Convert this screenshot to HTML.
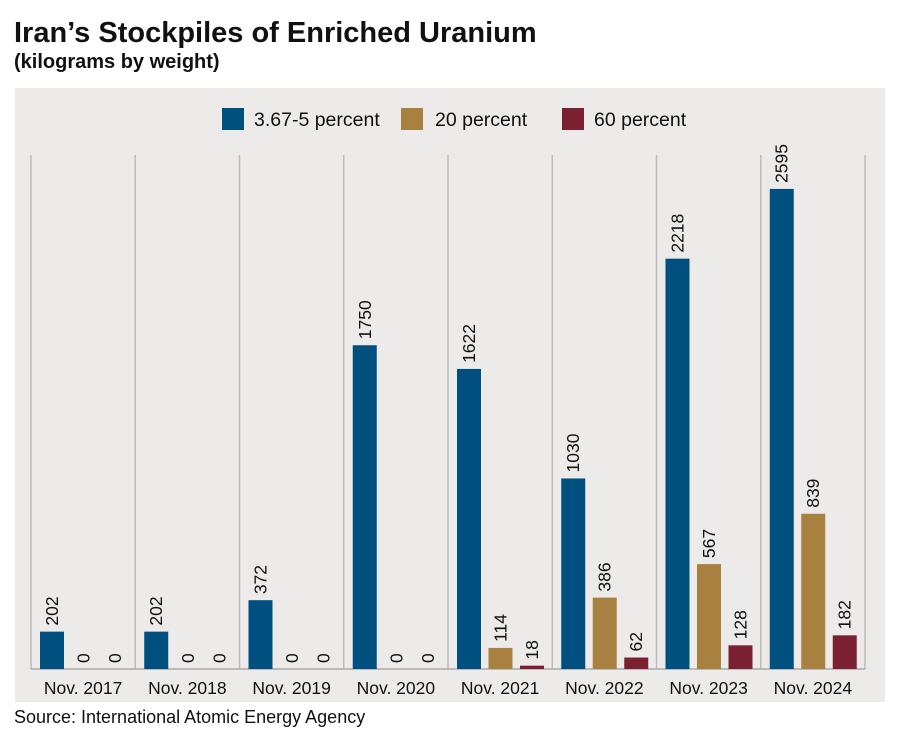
<!DOCTYPE html>
<html><head><meta charset="utf-8"><style>
body{margin:0;background:#fff;width:900px;height:736px;overflow:hidden;font-family:"Liberation Sans",sans-serif}
</style></head><body>
<svg id="chart" width="900" height="736" xmlns="http://www.w3.org/2000/svg">
<text x="14" y="42" font-family="Liberation Sans Narrow, Liberation Sans, sans-serif" font-weight="bold" font-size="29" fill="#111">Iran’s Stockpiles of Enriched Uranium</text>
<text x="14" y="68" font-family="Liberation Sans Narrow, Liberation Sans, sans-serif" font-weight="bold" font-size="20" fill="#111">(kilograms by weight)</text>
<rect x="15" y="88" width="870" height="614" fill="#ecebea"/>
<g>
<rect x="222" y="108" width="22" height="22" fill="#00507f"/>
<text x="254" y="126" font-size="19.5" fill="#111">3.67-5 percent</text>
<rect x="401" y="108" width="22" height="22" fill="#a88140"/>
<text x="435" y="126" font-size="19.5" fill="#111">20 percent</text>
<rect x="562" y="108" width="22" height="22" fill="#7a2030"/>
<text x="594" y="126" font-size="19.5" fill="#111">60 percent</text>
</g>
<g id="plot"></g>
<text x="14" y="723" font-size="18" fill="#111">Source: International Atomic Energy Agency</text>
</svg>
<script>
const categories=["Nov. 2017","Nov. 2018","Nov. 2019","Nov. 2020","Nov. 2021","Nov. 2022","Nov. 2023","Nov. 2024"];
const lowEnriched=[202,202,372,1750,1622,1030,2218,2595];
const enriched20=[0,0,0,0,114,386,567,839];
const enriched60=[0,0,0,0,18,62,128,182];
const seriesNames=["low","20","60"];
const colors=["#00507f","#a88140","#7a2030"];
const NS="http://www.w3.org/2000/svg";
const g=document.getElementById('plot');
const x0=31,gw=104.25,base=669,scale=0.185;
const xBand=i=>x0+i*gw;
const yScale=v=>base-v*scale;
function mk(t,a){const e=document.createElementNS(NS,t);for(const k in a)e.setAttribute(k,a[k]);g.appendChild(e);return e;}
for(let i=0;i<=categories.length;i++){
  const l=mk('line',{x1:xBand(i),x2:xBand(i),y1:155,y2:base,stroke:'#bdbcbb','stroke-width':1.5});
  
  
}
const ax=mk('line',{x1:x0,x2:xBand(categories.length),y1:base,y2:base,stroke:'#aaa','stroke-width':1.5});


const series=[lowEnriched,enriched20,enriched60];
categories.forEach((c,i)=>{
  series.forEach((s,j)=>{
    const v=s[i];const bx=xBand(i)+9+j*31.5;const y=yScale(v);
    const r=mk('rect',{x:bx,y:y,width:24,height:base-y,fill:colors[j]});
    
    
    const tx=bx+12+6,ty=y-6;
    const t=mk('text',{x:tx,y:ty,'font-size':17.5,fill:'#111',transform:`rotate(-90 ${tx} ${ty})`});
    t.textContent=v;
    
    
  });
  const lt=mk('text',{x:xBand(i)+gw/2,y:694,'font-size':17.5,fill:'#111','text-anchor':'middle'});
  lt.textContent=c;
  
  
});
</script>
</body></html>
